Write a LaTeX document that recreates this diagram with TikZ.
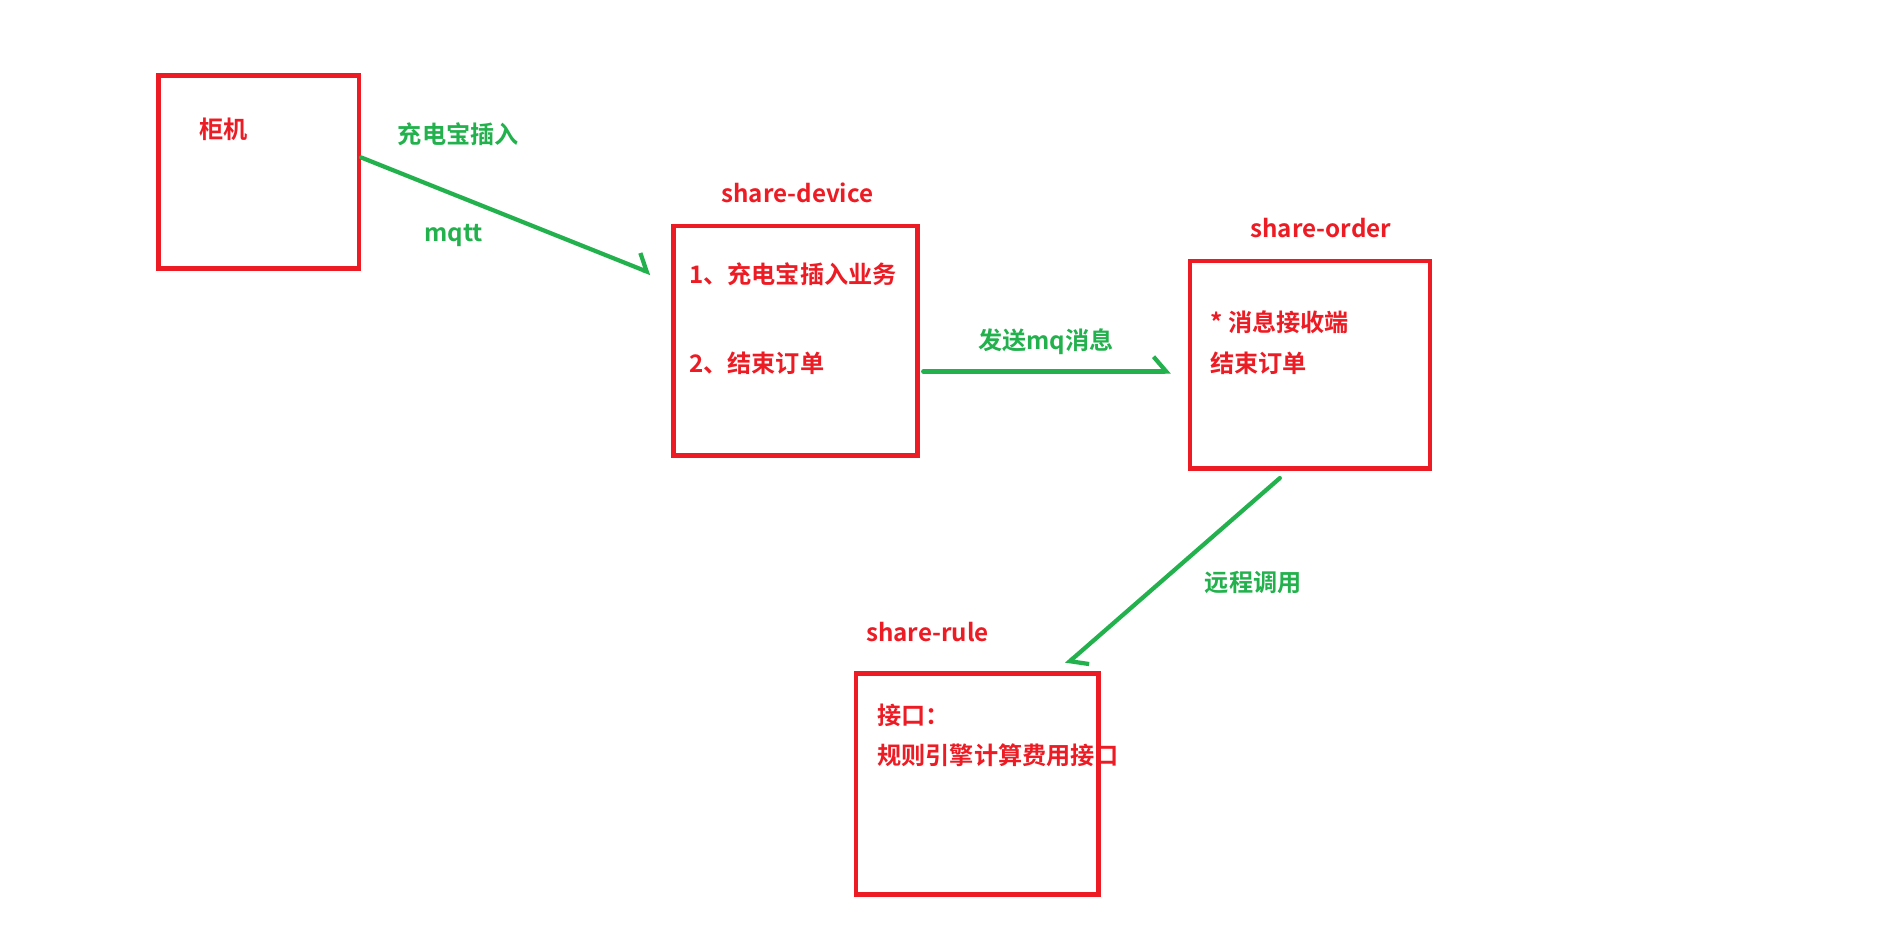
\documentclass[tikz,border=0pt]{standalone}
\usepackage{fontspec}
\setmainfont{Noto Sans CJK SC Bold}
\usetikzlibrary{arrows.meta, calc}
\definecolor{paintred}{RGB}{237,28,36}
\definecolor{paintgreen}{RGB}{34,177,76}
\tikzset{
  x=0.02cm, y=-0.02cm, % one unit is one pixel of the sketch
  box/.style 2 args={draw=paintred, line width=2.1pt, minimum width=#1*0.02cm, minimum height=#2*0.02cm}, % red frame of a service
  boxtext/.style={text=paintred, font=\fontsize{11.4}{13}\selectfont, inner sep=0pt}, % red labels
  flowtext/.style={text=paintgreen, font=\fontsize{11.4}{13}\selectfont, inner sep=0pt}, % green labels
  flow/.style={draw=paintgreen, line width=2pt, line cap=round, -{Straight Barb[left, length=6pt, width=14pt, line width=2pt]}}, % hand drawn arrows
}

\begin{document}
\begin{tikzpicture}
  \useasboundingbox (0,0) rectangle (1566,788);

  % the boxes
  \node[box={166}{160}] (cab) at (214.5,142.5) {};
  \node[box={202}{190}] (dev) at (659.5,282.5) {};
  \node[box={199}{172}] (ord) at (1086,302.5) {};
  \node[box={201}{183}] (rule) at (810,650) {};

  % titles and contents
  \node[boxtext] (cabname) at (185,107) {柜机};
  \node[boxtext] (devname) at (661,160) {share-device};
  \node[boxtext, anchor=west] (devone) at (571,227) {1、充电宝插入业务};
  \node[boxtext, anchor=west] (devtwo) at (571,301) {2、结束订单};
  \node[boxtext] (ordname) at (1095,189) {share-order};
  \node[boxtext, anchor=west] (ordone) at (1003,267) {* 消息接收端};
  \node[boxtext, anchor=west] (ordtwo) at (1003,301) {结束订单};
  \node[boxtext] (rulename) at (769,524) {share-rule};
  \node[boxtext, anchor=west] (ruleone) at (727,593) {接口：};
  \node[boxtext, anchor=west] (ruletwo) at (727,626) {规则引擎计算费用接口};

  % arrow labels
  \node[flowtext] (insert) at (380,111) {充电宝插入};
  \node[flowtext] (mqtt) at (376,195) {mqtt};
  \node[flowtext] (sendmq) at (867,283) {发送mq消息};
  \node[flowtext] (remote) at (1039,483) {远程调用};

  % arrows
  \draw[flow] ($(cab.east)+(0,-12)$) -- ($(dev.west)+(-17,-56)$);
  \draw[flow] ($(dev.east)+(3,25.5)$) -- ($(ord.west)+(-14,5.5)$);
  \draw[flow] ($(ord.south)+(-25,6)$) -- ($(rule.north)+(74,-6)$);
\end{tikzpicture}
\end{document}
